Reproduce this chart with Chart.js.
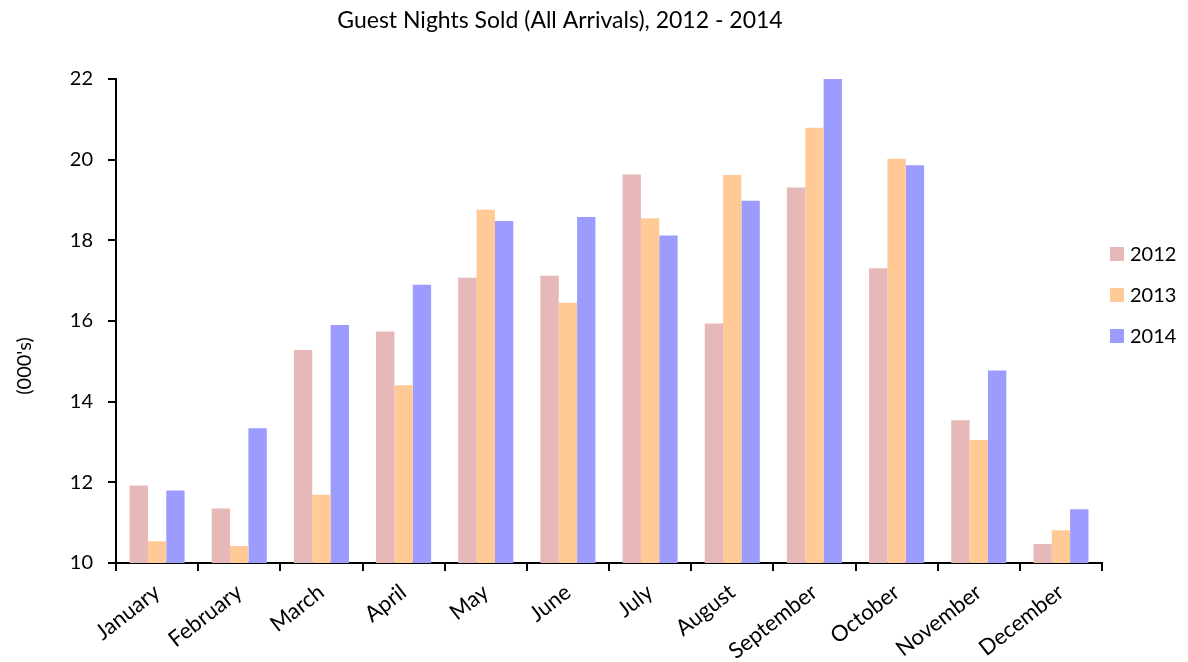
<!DOCTYPE html>
<html>
<head>
<meta charset="utf-8">
<title>Guest Nights Sold</title>
<script src="https://cdn.jsdelivr.net/npm/chart.js@4/dist/chart.umd.min.js"></script>
<style>
  html, body { margin: 0; padding: 0; background: #fff; }
  #wrap { width: 1188px; height: 662px; }
</style>
</head>
<body>
<div id="wrap"><canvas id="chart" width="1188" height="662"></canvas></div>
<script>
// Month labels on the x axis
const months = ['January', 'February', 'March', 'April', 'May', 'June',
    'July', 'August', 'September', 'October', 'November', 'December'];

// Guest nights sold (000's)
const nights2012 = [11.92, 11.35, 15.28, 15.74, 17.07, 17.12, 19.63, 15.94, 19.31, 17.31, 13.54, 10.47];
const nights2013 = [10.54, 10.42, 11.69, 14.41, 18.76, 16.45, 18.55, 19.62, 20.79, 20.02, 13.05, 10.81];
const nights2014 = [11.80, 13.34, 15.90, 16.90, 18.48, 18.58, 18.12, 18.98, 22.00, 19.86, 14.77, 11.33];

const FONT = 'Lato, "Liberation Sans", sans-serif';

// Title, y axis caption and the legend on the right
const captions = {
    id: 'captions',
    afterDraw(chart) {
        const ctx = chart.ctx;
        ctx.save();
        ctx.fillStyle = '#000';
        ctx.textBaseline = 'middle';

        ctx.font = '23px ' + FONT;
        ctx.textAlign = 'center';
        ctx.fillText('Guest Nights Sold (All Arrivals), 2012 - 2014', 560, 21);

        // legend, one row per dataset
        ctx.font = '20px ' + FONT;
        ctx.textAlign = 'left';
        chart.data.datasets.forEach((ds, i) => {
            const y = 254 + i * 41;
            ctx.fillStyle = ds.backgroundColor;
            ctx.fillRect(1110, y - 7, 14, 14);
            ctx.fillStyle = '#000';
            ctx.fillText(ds.label, 1130, y + 1);
        });

        ctx.translate(25, 366);
        ctx.rotate(-Math.PI / 2);
        ctx.textAlign = 'center';
        ctx.fillText("(000's)", 0, 0);
        ctx.restore();
    }
};

document.addEventListener('DOMContentLoaded', function () {
    const ctx = document.getElementById('chart').getContext('2d');
    new Chart(ctx, {
        type: 'bar',
        data: {
            labels: months,
            datasets: [
                { label: '2012', data: nights2012, backgroundColor: '#E6B8B7' },
                { label: '2013', data: nights2013, backgroundColor: '#FFCA96' },
                { label: '2014', data: nights2014, backgroundColor: '#9C9CFF' },
            ],
        },
        options: {
            responsive: false,
            animation: false,
            layout: { padding: { top: 79, left: 0, right: 86, bottom: 0 } },
            datasets: {
                bar: { categoryPercentage: 0.67, barPercentage: 1.0 }
            },
            plugins: {
                legend: { display: false },
                tooltip: { enabled: false },
            },
            scales: {
                x: {
                    grid: {
                        offset: true,
                        drawOnChartArea: false,
                        color: '#000',
                        lineWidth: 2,
                        tickLength: 8,
                    },
                    border: { color: '#000', width: 2 },
                    ticks: {
                        color: '#000',
                        font: { family: FONT, size: 22 },
                        minRotation: 38,
                        maxRotation: 38,
                        padding: 8,
                    },
                    afterFit(scale) { scale.height = 99; },
                },
                y: {
                    min: 10,
                    max: 22,
                    grid: {
                        drawOnChartArea: false,
                        color: '#000',
                        lineWidth: 2,
                        tickLength: 8,
                    },
                    border: { color: '#000', width: 2 },
                    ticks: {
                        stepSize: 2,
                        color: '#000',
                        font: { family: FONT, size: 20 },
                        padding: 15,
                    },
                    afterFit(scale) { scale.width = 116; },
                },
            },
        },
        plugins: [captions],
    });
});
</script>
</body>
</html>
